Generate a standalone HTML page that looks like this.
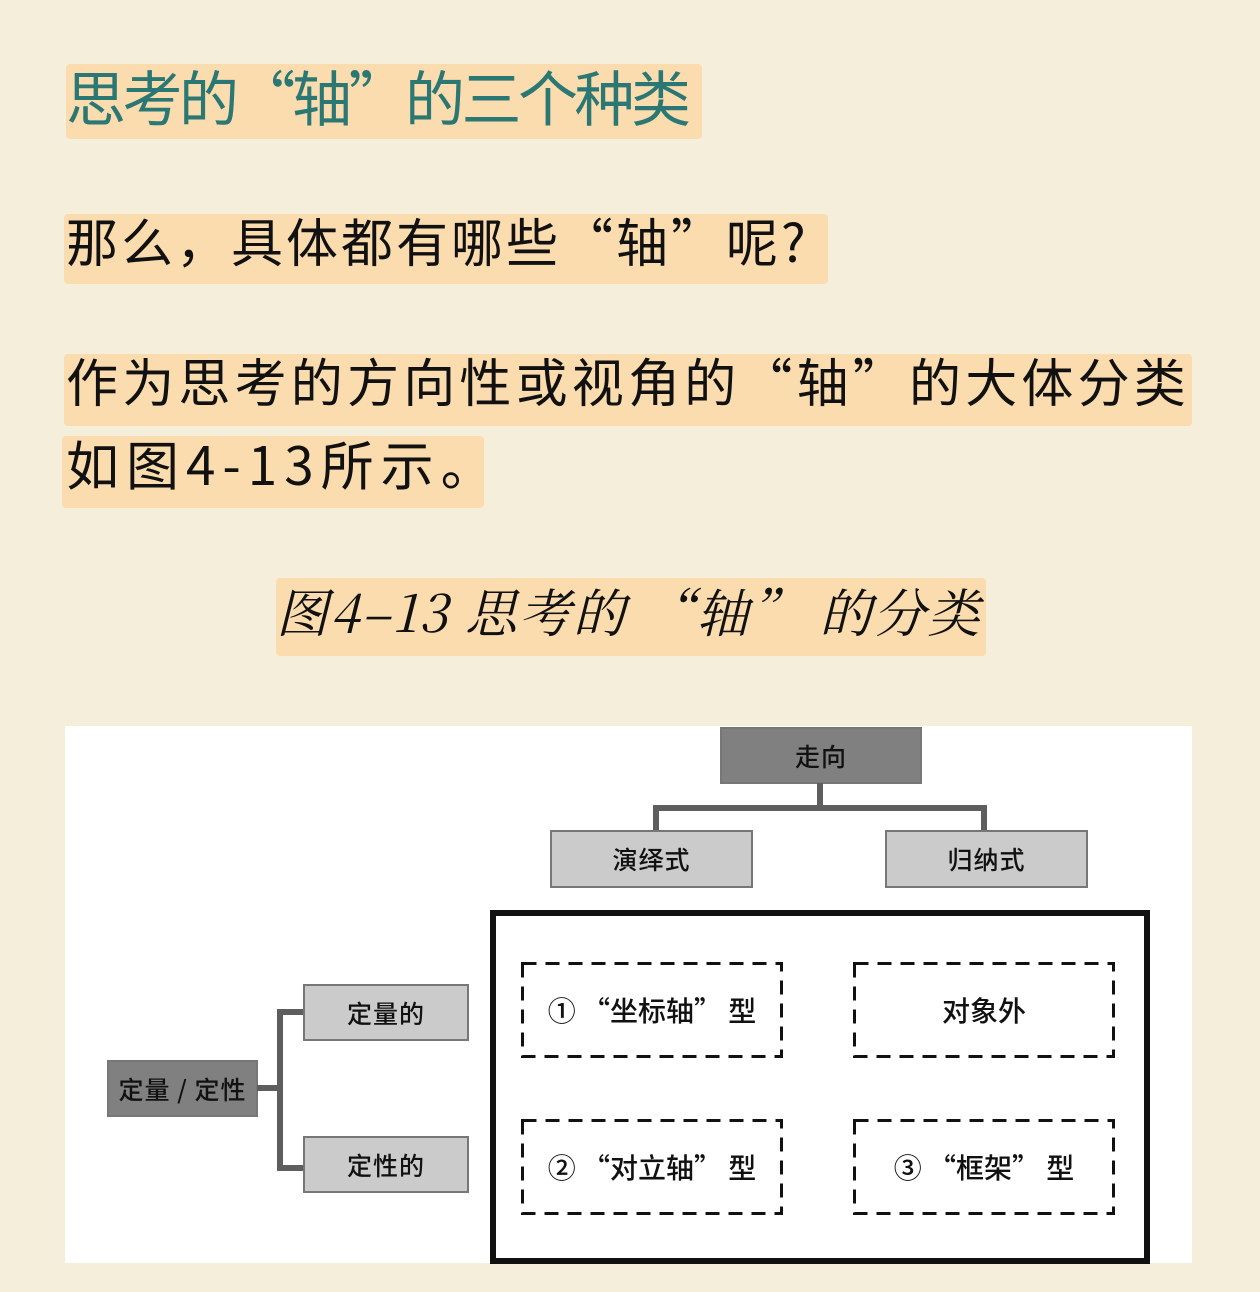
<!DOCTYPE html>
<html><head><meta charset="utf-8"><style>
body{margin:0;width:1260px;height:1292px;background:#f5eedb;position:relative;overflow:hidden;font-family:"Noto Sans CJK SC",sans-serif}
.a{position:absolute}
.hl{position:absolute;background:#fbdcae;border-radius:4px}
.t{position:absolute;white-space:nowrap;line-height:1}
.box{position:absolute;box-sizing:border-box;display:flex;align-items:center;justify-content:center;font-size:25px;font-weight:500;color:#111;border:2px solid #777;letter-spacing:1px}
.dk{background:#808080}
.lt{background:#cbcbcb}
.dt{position:absolute;display:flex;align-items:center;justify-content:center;font-size:27px;font-weight:500;color:#111;width:262px;height:96px;white-space:pre}
.ln{position:absolute;background:#5e5e5e}
</style></head><body>
<div class="hl" style="left:66px;top:64px;width:636px;height:75px"></div>
<div class="t" style="left:66px;top:66px;font-size:60px;letter-spacing:-3.5px;color:#2a7774">思考的“轴”的三个种类</div>

<div class="hl" style="left:64px;top:214px;width:764px;height:70px"></div>
<div class="t" style="left:66px;top:214px;font-size:52px;letter-spacing:3px;color:#111">那么，具体都有哪些“轴”呢?</div>

<div class="hl" style="left:64px;top:354px;width:1128px;height:72px"></div>
<div class="t" style="left:66px;top:354px;font-size:52px;letter-spacing:4.2px;color:#111">作为思考的方向性或视角的“轴”的大体分类</div>
<div class="hl" style="left:62px;top:436px;width:422px;height:72px"></div>
<div class="t" style="left:66px;top:437px;font-size:53px;letter-spacing:7px;color:#111">如图4-13所示。</div>

<div class="hl" style="left:276px;top:578px;width:710px;height:78px"></div>
<div class="t" style="left:276px;top:584px;font-size:52px;letter-spacing:2px;color:#111;font-family:'Noto Serif CJK SC',serif;font-style:italic">图4–13 思考的 “轴” 的分类</div>

<div class="a" style="left:65px;top:726px;width:1127px;height:537px;background:#fff"></div>

<div class="box dk" style="left:720px;top:727px;width:202px;height:57px">走向</div>
<div class="ln" style="left:817px;top:783px;width:6px;height:26px"></div>
<div class="ln" style="left:653px;top:805px;width:334px;height:6px"></div>
<div class="ln" style="left:653px;top:805px;width:6px;height:26px"></div>
<div class="ln" style="left:981px;top:805px;width:6px;height:26px"></div>
<div class="box lt" style="left:550px;top:830px;width:203px;height:58px">演绎式</div>
<div class="box lt" style="left:885px;top:830px;width:203px;height:58px">归纳式</div>

<div class="a" style="left:490px;top:910px;width:660px;height:354px;box-sizing:border-box;border:6px solid #111"></div>
<svg class="a" style="left:0;top:0" width="1260" height="1292">
<g fill="none" stroke="#111" stroke-width="3" stroke-dasharray="14 9">
<rect x="522.5" y="963.5" width="259" height="93"/>
<rect x="854.5" y="963.5" width="259" height="93"/>
<rect x="522.5" y="1120.5" width="259" height="93"/>
<rect x="854.5" y="1120.5" width="259" height="93"/>
</g></svg>
<div class="dt" style="left:521px;top:962px;font-size:28px">① “坐标轴” 型</div>
<div class="dt" style="left:853px;top:962px;font-size:28px">对象外</div>
<div class="dt" style="left:521px;top:1119px;font-size:28px">② “对立轴” 型</div>
<div class="dt" style="left:853px;top:1119px;font-size:28px">③ “框架” 型</div>

<div class="box dk" style="left:107px;top:1060px;width:151px;height:57px">定量 / 定性</div>
<div class="ln" style="left:257px;top:1085px;width:24px;height:6px"></div>
<div class="ln" style="left:277px;top:1009px;width:6px;height:162px"></div>
<div class="ln" style="left:277px;top:1009px;width:27px;height:6px"></div>
<div class="ln" style="left:277px;top:1165px;width:27px;height:6px"></div>
<div class="box lt" style="left:303px;top:984px;width:166px;height:57px">定量的</div>
<div class="box lt" style="left:303px;top:1136px;width:166px;height:57px">定性的</div>
</body></html>
